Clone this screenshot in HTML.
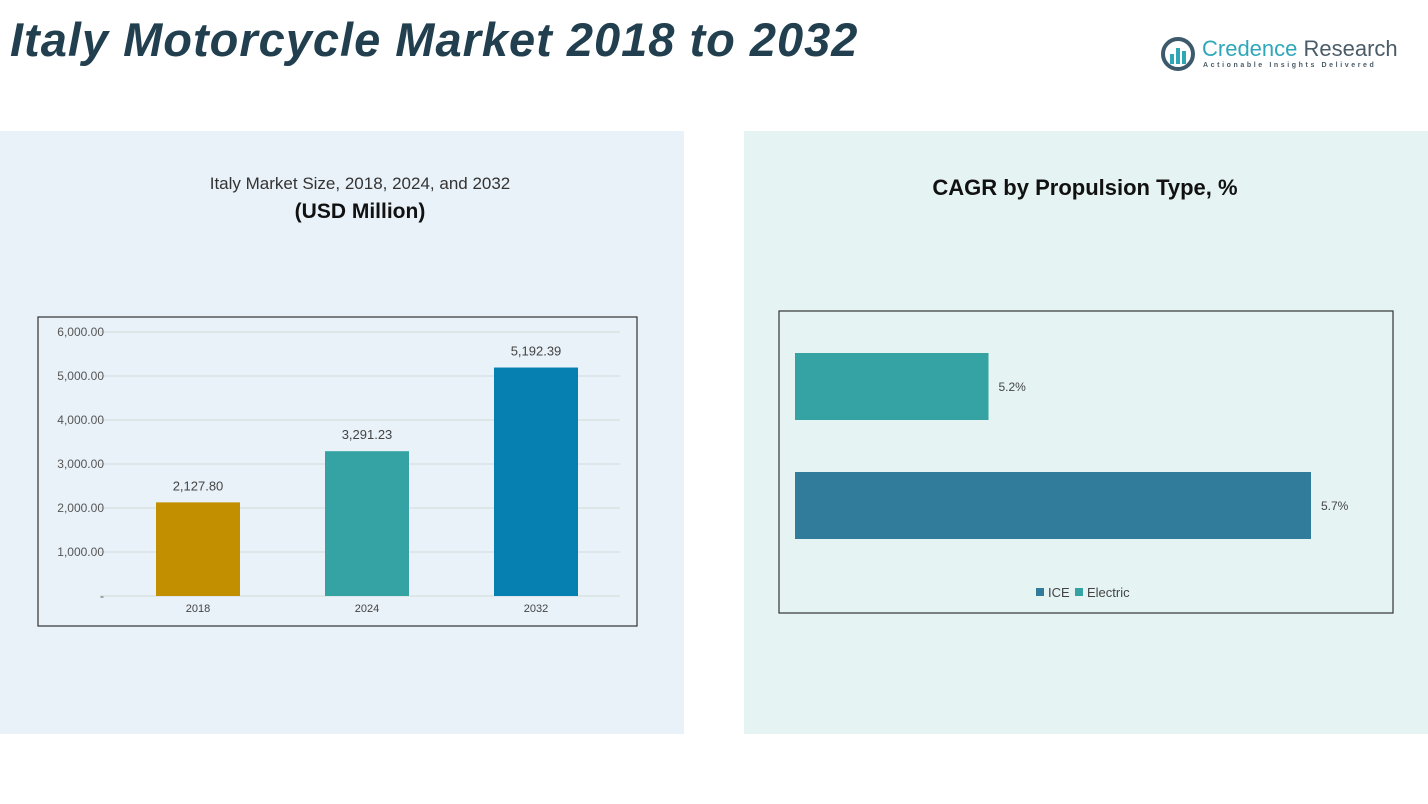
<!DOCTYPE html>
<html><head><meta charset="utf-8"><style>
body{margin:0;width:1428px;height:804px;background:#fff;position:relative;overflow:hidden;font-family:"Liberation Sans",sans-serif}
.abs{position:absolute}
</style></head><body>
<div class="abs" style="left:10px;top:12px;font-size:47px;font-weight:bold;font-style:italic;color:#213f4e;letter-spacing:1px;white-space:nowrap">Italy Motorcycle Market 2018 to 2032</div>
<div class="abs" style="left:1160px;top:34px;width:240px;height:40px">
<svg width="38" height="38" style="position:absolute;left:0;top:2px"><circle cx="18" cy="18" r="15" fill="none" stroke="#3d5a6c" stroke-width="4"/><rect x="10" y="18" width="4" height="10" fill="#2fa7b8"/><rect x="16" y="12" width="4" height="16" fill="#2fa7b8"/><rect x="22" y="15" width="4" height="13" fill="#2fa7b8"/></svg>
<div style="position:absolute;left:42px;top:2px;font-size:22px;color:#2fa7b8;white-space:nowrap">Credence <span style="color:#4a5c68">Research</span></div>
<div style="position:absolute;left:43px;top:28px;font-size:7px;letter-spacing:2.6px;color:#4a5c68;white-space:nowrap;font-weight:bold">Actionable Insights Delivered</div>
</div>
<div class="abs" style="left:0;top:131px;width:684px;height:603px;background:#e9f2f8"></div>
<div class="abs" style="left:744px;top:131px;width:684px;height:603px;background:#e5f3f3"></div>
<div class="abs" style="left:100px;top:174px;width:520px;text-align:center;font-size:17px;color:#333">Italy Market Size, 2018, 2024, and 2032</div>
<div class="abs" style="left:100px;top:200px;width:520px;text-align:center;font-size:21px;font-weight:bold;color:#111">(USD Million)</div>
<div class="abs" style="left:800px;top:175px;width:570px;text-align:center;font-size:22px;font-weight:bold;color:#111">CAGR by Propulsion Type, %</div>
<svg class="abs" style="left:0;top:0" width="1428" height="804" id="charts">
<rect x="38" y="317" width="599" height="309" fill="none" stroke="#333" stroke-width="1.2"/>
<rect x="779" y="311" width="614" height="302" fill="none" stroke="#333" stroke-width="1.2"/>
<g id="left"></g><g id="right"></g>
</svg>
<script>
const years=["2018","2024","2032"];
const marketValues=[2127.80,3291.23,5192.39];
const valueLabels=["2,127.80","3,291.23","5,192.39"];
const yTicks=[0,1000,2000,3000,4000,5000,6000];
const yTickLabels=["-","1,000.00","2,000.00","3,000.00","4,000.00","5,000.00","6,000.00"];
const barColors=["#c18f00","#35a3a3","#0580b0"];
const types=["Electric","ICE"];
const cagrValues=[5.2,5.7];
const cagrLabels=["5.2%","5.7%"];
const cagrColors=["#35a3a3","#317b9b"];
const NS="http://www.w3.org/2000/svg";
function mk(tag,attrs,parent,text){const e=document.createElementNS(NS,tag);for(const k in attrs)e.setAttribute(k,attrs[k]);if(text!==undefined)e.textContent=text;parent.appendChild(e);return e;}
const L=document.getElementById('left');
const y=v=>596-v*0.044;
const xc=i=>198+i*169;
yTicks.forEach((t,i)=>{
 const g=mk('line',{x1:100,x2:620,y1:y(t),y2:y(t),stroke:'#d5dadd','stroke-width':1},L);
 
 
 const tx=mk('text',{x:104,y:y(t)+4,'text-anchor':'end','font-size':12,fill:'#555','font-family':'Liberation Sans'},L,yTickLabels[i]);
 
 
});
marketValues.forEach((v,i)=>{
 const r=mk('rect',{x:xc(i)-42,y:y(v),width:84,height:y(0)-y(v),fill:barColors[i]},L);
 
 
 const l=mk('text',{x:xc(i),y:y(v)-12,'text-anchor':'middle','font-size':13,fill:'#444','font-family':'Liberation Sans'},L,valueLabels[i]);
 
 
 const c=mk('text',{x:xc(i),y:612,'text-anchor':'middle','font-size':11,fill:'#444','font-family':'Liberation Sans'},L,years[i]);
 
 
});
const R=document.getElementById('right');
const xs=v=>795+(v-4.9)*645;
const yb=[353,472];
cagrValues.forEach((v,i)=>{
 const r=mk('rect',{x:795,y:yb[i],width:xs(v)-795,height:67,fill:cagrColors[i]},R);
 
 
 const l=mk('text',{x:xs(v)+10,y:yb[i]+38,'font-size':12,fill:'#444','font-family':'Liberation Sans'},R,cagrLabels[i]);
 
 
});
const legend=[["ICE",cagrColors[1],1036],["Electric",cagrColors[0],1075]];
legend.forEach(([n,c,x])=>{
 const s=mk('rect',{x:x,y:588,width:8,height:8,fill:c},R);
 
 
 const t=mk('text',{x:x+12,y:597,'font-size':13,fill:'#444','font-family':'Liberation Sans'},R,n);
 
 
});
</script>
</body></html>
